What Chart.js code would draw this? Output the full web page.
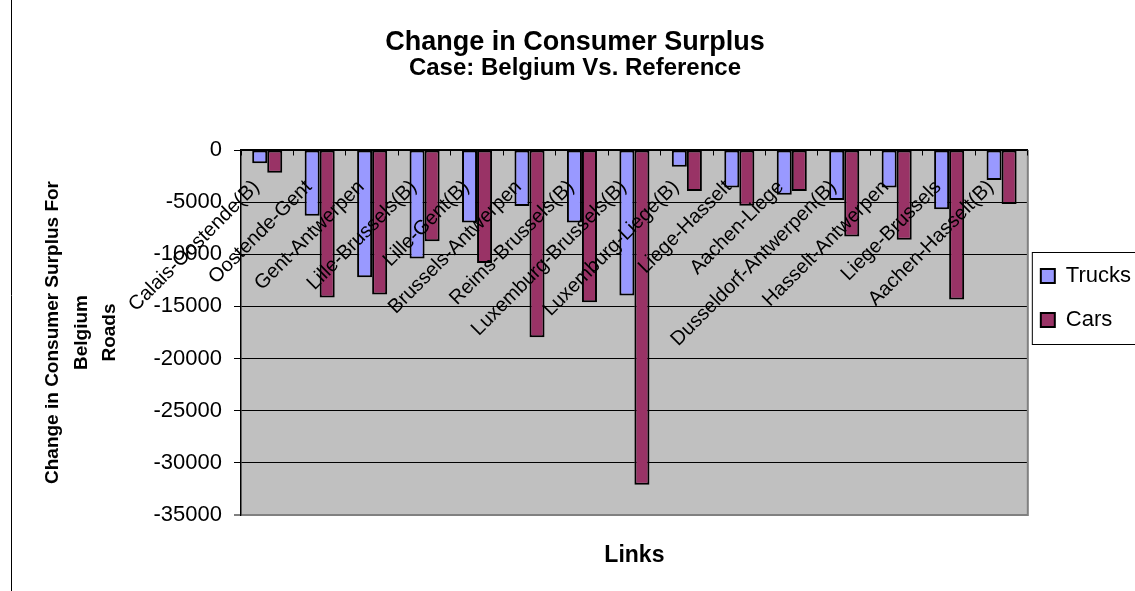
<!DOCTYPE html>
<html>
<head>
<meta charset="utf-8">
<script src="https://cdn.jsdelivr.net/npm/chart.js"></script>
<style>
  html, body { margin: 0; padding: 0; background: #fff; overflow: hidden; }
  #wrap { position: relative; width: 1150px; height: 591px; }
  canvas { display: block; }
</style>
</head>
<body>
<div id="wrap"><canvas id="c" width="1150" height="591"></canvas></div>
<script>
// ---- data ----
const categories = [
  "Calais-Oostende(B)", "Oostende-Gent", "Gent-Antwerpen", "Lille-Brussels(B)",
  "Lille-Gent(B)", "Brussels-Antwerpen", "Reims-Brussels(B)", "Luxemburg-Brussels(B)",
  "Luxemburg-Liege(B)", "Liege-Hasselt", "Aachen-Liege", "Dusseldorf-Antwerpen(B)",
  "Hasselt-Antwerpen", "Liege-Brussels", "Aachen-Hasselt(B)"
];
const trucks = [-1270, -6300, -12200, -10400, -6950, -5380, -6950, -13950, -1600, -3600, -4300, -4800, -3600, -5670, -2870];
const cars   = [-2170, -14150, -13860, -8760, -10830, -17950, -14600, -32100, -3920, -5350, -3920, -8290, -8600, -14340, -5190];
const seriesNames = ["Trucks", "Cars"];
const yMin = -35000, yMax = 0, yStep = 5000;
const chartTitle = "Change in Consumer Surplus";
const chartSubtitle = "Case: Belgium Vs. Reference";
const yTitle = ["Change in Consumer Surplus For", "Belgium", "Roads"];
const xTitle = "Links";

const FONT = "'Liberation Sans', Arial, Helvetica, sans-serif";
Chart.defaults.font.family = FONT;
Chart.defaults.color = '#000';

const decorPlugin = {
  id: 'decor',
  beforeDraw(chart) {
    const {ctx, chartArea: ca} = chart;
    ctx.save();
    ctx.fillStyle = '#C0C0C0';
    ctx.fillRect(ca.left, ca.top, ca.right - ca.left, ca.bottom - ca.top);
    // outer chart frame (left edge)
    ctx.strokeStyle = '#000';
    ctx.lineWidth = 1;
    ctx.beginPath();
    ctx.moveTo(11.5, 0);
    ctx.lineTo(11.5, chart.height);
    ctx.stroke();
    ctx.restore();
  },
  afterLayout(chart) {
    const lg = chart.legend;
    const ca = chart.chartArea;
    if (!lg) return;
    const frameLeft = ca.right + 4;
    const frameTop = 252, frameH = 92;
    const pad = lg.options.labels.padding;
    lg.left = frameLeft + 9 - pad;
    lg.right = lg.left + lg.width;
    lg.top = frameTop + 13 - pad;
    lg.bottom = lg.top + 240;
    lg.height = 240;
    chart.$legendFrame = {x: frameLeft, y: frameTop, h: frameH};
  },
  beforeDatasetsDraw(chart) {
    const {ctx, chartArea: ca} = chart;
    ctx.save();
    ctx.strokeStyle = '#808080';
    ctx.lineWidth = 2;
    ctx.beginPath();
    ctx.moveTo(ca.right, ca.top);
    ctx.lineTo(ca.right, ca.bottom + 1);
    ctx.stroke();
    ctx.restore();
  },
  afterDraw(chart) {
    const f = chart.$legendFrame;
    if (!f) return;
    const ctx = chart.ctx;
    ctx.save();
    ctx.strokeStyle = '#000';
    ctx.lineWidth = 1;
    ctx.strokeRect(f.x + 0.5, f.y + 0.5, 300, f.h);
    ctx.restore();
  }
};

new Chart(document.getElementById('c'), {
  type: 'bar',
  data: {
    labels: categories,
    datasets: [
      { label: seriesNames[0], data: trucks, backgroundColor: '#9999FF', borderColor: '#000', borderWidth: 2, borderSkipped: false },
      { label: seriesNames[1], data: cars, backgroundColor: '#993366', borderColor: '#000', borderWidth: 2, borderSkipped: false }
    ]
  },
  options: {
    responsive: false,
    animation: false,
    devicePixelRatio: 1,
    layout: { padding: 0 },
    datasets: { bar: { categoryPercentage: 0.573, barPercentage: 1.0 } },
    scales: {
      x: {
        type: 'category',
        position: { y: 0 },
        offset: true,
        grid: { display: true, drawOnChartArea: false, drawTicks: true, tickLength: 5, color: '#000', offset: true, z: 1 },
        border: { display: true, color: '#000', width: 1.5, z: 1 },
        ticks: { z: 2, autoSkip: false, minRotation: 45, maxRotation: 45, padding: 20.5, labelOffset: -11,
                 font: { size: 20 }, color: '#000' }
      },
      xt: {
        type: 'category',
        position: 'bottom',
        offset: true,
        grid: { display: false, drawTicks: false },
        border: { display: false },
        ticks: { display: false },
        title: { display: true, text: xTitle, color: '#000',
                 font: { size: 23, weight: 'bold', lineHeight: 1.2 }, padding: { top: 0, bottom: 22 } },
        afterFit(s) { s.height = 76; }
      },
      y: {
        min: yMin, max: yMax,
        ticks: { stepSize: yStep, padding: 12, font: { size: 22 }, color: '#000',
                 callback: v => String(v) },
        grid: {
          color: c => (c.tick && c.tick.value === yMin) ? '#808080' : '#000',
          lineWidth: c => (c.tick && c.tick.value === yMin) ? 2 : 1,
          tickLength: 7, tickColor: '#000', tickWidth: 1
        },
        border: { display: true, color: '#000', width: 1.5 },
        title: { display: true, text: yTitle, color: '#000',
                 font: { size: 19, weight: 'bold', lineHeight: 1.5 }, padding: { top: 38.75, bottom: 0 } },
        afterFit(s) { s.width = 241; }
      }
    },
    plugins: {
      title: { display: true, text: chartTitle, color: '#000',
               font: { size: 27, weight: 'bold', lineHeight: 1 }, padding: { top: 29.5, bottom: 0 } },
      subtitle: { display: true, text: chartSubtitle, color: '#000',
                  font: { size: 24, weight: 'bold', lineHeight: 1 }, padding: { top: 0, bottom: 69.5 } },
      legend: {
        position: 'right', align: 'start',
        labels: { boxWidth: 14, boxHeight: 14, padding: 22, color: '#000', font: { size: 22 } }
      },
      tooltip: { enabled: false }
    }
  },
  plugins: [decorPlugin]
});
</script>
</body>
</html>
